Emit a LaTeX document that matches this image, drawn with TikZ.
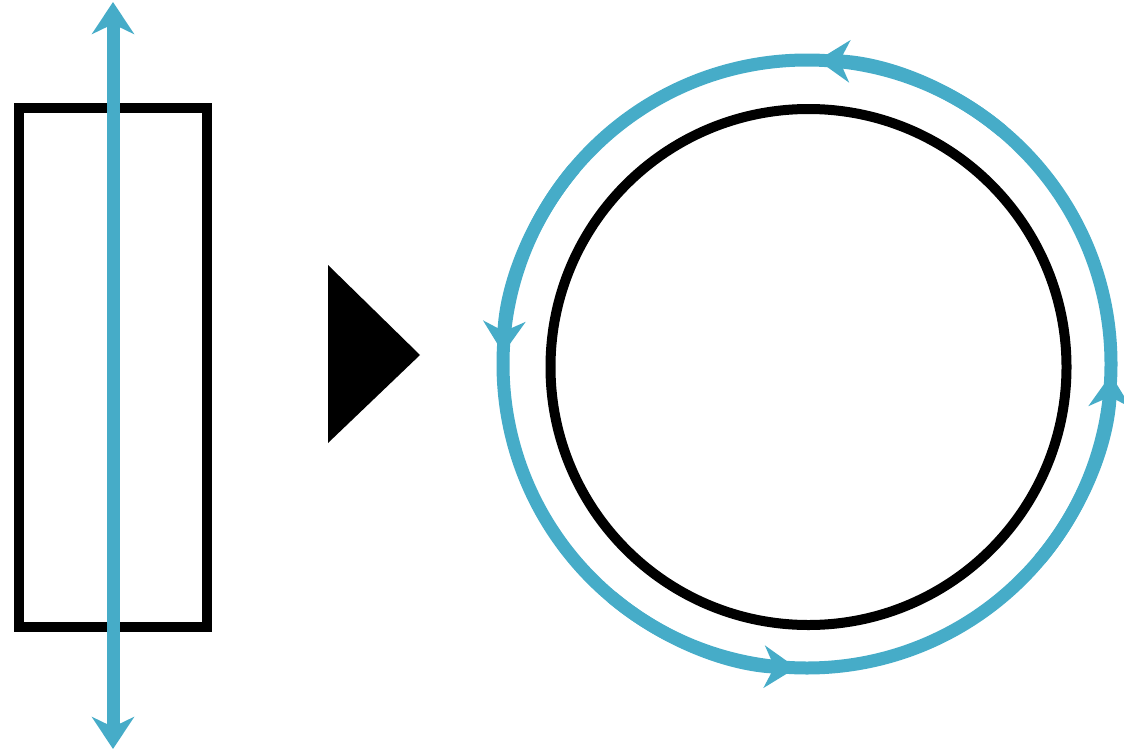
\documentclass[tikz,border=0pt]{standalone}
\usetikzlibrary{arrows.meta}
\definecolor{ink}{RGB}{0,0,0}
\definecolor{flux}{RGB}{70,172,200}
\tikzset{
  outline/.style={draw=ink, line width=5pt},
  fluxline/.style={draw=flux, line width=6.5pt},
  fluxtip/.style={-{Stealth[length=16pt,width=21pt,inset=5pt]}},
  bothtip/.style={{Stealth[length=16pt,width=21pt,inset=5pt]}-{Stealth[length=16pt,width=21pt,inset=5pt]}},
}

\begin{document}
\begin{tikzpicture}[x=0.5pt, y=0.5pt]
  \useasboundingbox (0,0) rectangle (1124,752);
  % flat sheet with field line through it
  \node[outline, minimum width=94.25pt, minimum height=259.25pt, inner sep=0pt] (sheet) at (113,384.75) {};
  \coordinate (top) at (113,750);
  \coordinate (bot) at (113,3);
  \draw[fluxline, bothtip] (bot) -- (top);
  % pointer
  \fill[ink] (328,487) coordinate (p1) -- (420,397) coordinate (p2) -- (328,309) coordinate (p3) -- cycle;
  % rolled sheet with circulating field
  \coordinate (core) at (808.5,385);
  \coordinate (ring) at (807,388);
  \draw[outline] (core) circle[radius=258];
  \draw[fluxline] (ring) circle[radius=304];
  \foreach \a in {0,90,180,270} {
    \draw[fluxline, fluxtip] ([shift={(\a+50:304)}]ring) arc[start angle=\a+50, end angle=\a+88, radius=304];
  }
\end{tikzpicture}
\end{document}
